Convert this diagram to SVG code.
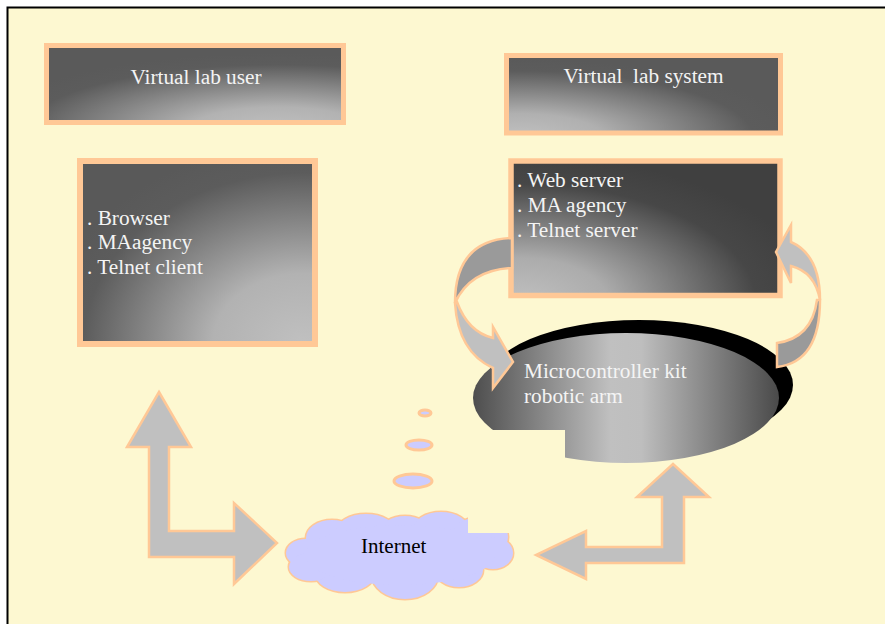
<svg xmlns="http://www.w3.org/2000/svg" width="885" height="624" viewBox="0 0 885 624">
  <style>
    .frame { fill: none; stroke: #000; stroke-width: 2; }
    .box { stroke: #FFC896; }
    .label { font-family: "Liberation Serif", "Times New Roman", serif; font-size: 21.3px; fill: #F4F4F4; }
    .dark-label { font-family: "Liberation Serif", "Times New Roman", serif; font-size: 21px; fill: #000; }
    .arrow { fill: #C0C0C0; stroke: #FFC896; stroke-width: 2.5; stroke-linejoin: miter; }
    .arrow-back { fill: #9A9A9A; stroke: #FFC896; stroke-width: 2.5; }
    .puff-edge { fill: #CCCCFF; stroke: #FFC896; stroke-width: 3; }
    .puff-fill { fill: #CCCCFF; stroke: none; }
    .bg { fill: #FDF8D1; }
  </style>
  <defs>
    <radialGradient id="gUser" cx="0.78" cy="1.1" r="1.0" gradientUnits="objectBoundingBox">
      <stop offset="0" stop-color="#C0C0C0"/>
      <stop offset="0.3" stop-color="#B2B2B2"/>
      <stop offset="0.85" stop-color="#5C5C5C"/>
      <stop offset="1" stop-color="#5A5A5A"/>
    </radialGradient>
    <radialGradient id="gSystem" cx="0.05" cy="1.05" r="1.0" gradientUnits="objectBoundingBox">
      <stop offset="0" stop-color="#C0C0C0"/>
      <stop offset="0.3" stop-color="#B0B0B0"/>
      <stop offset="0.85" stop-color="#5C5C5C"/>
      <stop offset="1" stop-color="#5A5A5A"/>
    </radialGradient>
    <radialGradient id="gClient" cx="0.95" cy="1.0" r="1.1" gradientUnits="objectBoundingBox">
      <stop offset="0" stop-color="#C0C0C0"/>
      <stop offset="0.35" stop-color="#B2B2B2"/>
      <stop offset="0.85" stop-color="#5C5C5C"/>
      <stop offset="1" stop-color="#595959"/>
    </radialGradient>
    <radialGradient id="gServer" cx="0.03" cy="1.05" r="1.1" gradientUnits="objectBoundingBox">
      <stop offset="0" stop-color="#C0C0C0"/>
      <stop offset="0.3" stop-color="#ACACAC"/>
      <stop offset="0.8" stop-color="#474747"/>
      <stop offset="1" stop-color="#404040"/>
    </radialGradient>
    <linearGradient id="gKit" x1="0" y1="0" x2="1" y2="0">
      <stop offset="0" stop-color="#4E4E4E"/>
      <stop offset="0.45" stop-color="#C0C0C0"/>
      <stop offset="0.55" stop-color="#BEBEBE"/>
      <stop offset="1" stop-color="#4A4A4A"/>
    </linearGradient>
  </defs>

  <!-- page and frame -->
  <rect x="0" y="0" width="885" height="624" fill="#FFFFFF"/>
  <rect class="bg" x="7.5" y="7.5" width="878" height="617"/>
  <path class="frame" d="M7.5,624 V7.5 H885"/>

  <!-- header boxes -->
  <g id="virtual-lab-user">
    <rect class="box" x="46.5" y="45.5" width="297" height="77" fill="url(#gUser)" stroke-width="5"/>
    <text class="label" x="196" y="84" text-anchor="middle">Virtual lab user</text>
  </g>
  <g id="virtual-lab-system">
    <rect class="box" x="506.5" y="55.5" width="274" height="77.5" fill="url(#gSystem)" stroke-width="5"/>
    <text class="label" x="643.5" y="83" text-anchor="middle" xml:space="preserve">Virtual  lab system</text>
  </g>

  <!-- client software box -->
  <g id="client-software">
    <rect class="box" x="80" y="161" width="235" height="183" fill="url(#gClient)" stroke-width="6"/>
    <text class="label" x="87" y="225">. Browser</text>
    <text class="label" x="87" y="249">. MAagency</text>
    <text class="label" x="87" y="274">. Telnet client</text>
  </g>

  <!-- server software box -->
  <g id="server-software">
    <rect class="box" x="511" y="161" width="269" height="134.5" fill="url(#gServer)" stroke-width="5.5"/>
    <text class="label" x="517" y="187">. Web server</text>
    <text class="label" x="517" y="212">. MA agency</text>
    <text class="label" x="517" y="237">. Telnet server</text>
  </g>

  <!-- microcontroller kit ellipse with drop shadow -->
  <g id="microcontroller-kit">
    <ellipse cx="639" cy="385" rx="154" ry="65" fill="#000"/>
    <ellipse cx="626" cy="398" rx="153" ry="65" fill="url(#gKit)"/>
    <rect class="bg" x="468" y="430" width="97" height="40"/>
    <text class="label" x="524" y="378">Microcontroller kit</text>
    <text class="label" x="524" y="403">robotic arm</text>
  </g>

  <!-- internet cloud with thought bubbles -->
  <g id="internet">
    <ellipse class="puff-edge" cx="425" cy="413" rx="6" ry="3"/>
    <ellipse class="puff-edge" cx="419" cy="445" rx="13" ry="5"/>
    <ellipse class="puff-edge" cx="413" cy="481" rx="19" ry="7"/>
    <g class="puff-edge">
      <ellipse cx="306" cy="553" rx="20" ry="14"/>
      <ellipse cx="332" cy="538" rx="26" ry="18"/>
      <ellipse cx="366" cy="532" rx="30" ry="18"/>
      <ellipse cx="405" cy="532" rx="25" ry="16"/>
      <ellipse cx="441" cy="530" rx="28" ry="18"/>
      <ellipse cx="480" cy="537" rx="28" ry="20"/>
      <ellipse cx="493" cy="553" rx="20" ry="16"/>
      <ellipse cx="459" cy="570" rx="24" ry="17"/>
      <ellipse cx="405" cy="575" rx="33" ry="24"/>
      <ellipse cx="345" cy="573" rx="30" ry="19"/>
      <ellipse cx="311" cy="567" rx="22" ry="14"/>
    </g>
    <g class="puff-fill">
      <ellipse cx="306" cy="553" rx="20" ry="14"/>
      <ellipse cx="332" cy="538" rx="26" ry="18"/>
      <ellipse cx="366" cy="532" rx="30" ry="18"/>
      <ellipse cx="405" cy="532" rx="25" ry="16"/>
      <ellipse cx="441" cy="530" rx="28" ry="18"/>
      <ellipse cx="480" cy="537" rx="28" ry="20"/>
      <ellipse cx="493" cy="553" rx="20" ry="16"/>
      <ellipse cx="459" cy="570" rx="24" ry="17"/>
      <ellipse cx="405" cy="575" rx="33" ry="24"/>
      <ellipse cx="345" cy="573" rx="30" ry="19"/>
      <ellipse cx="311" cy="567" rx="22" ry="14"/>
      <ellipse cx="400" cy="555" rx="95" ry="30"/>
    </g>
    <rect class="bg" x="468" y="504" width="50" height="29"/>
    <text class="dark-label" x="361" y="553">Internet</text>
  </g>

  <!-- connectors -->
  <g id="connectors">
    <!-- user side: up to the client box, right to the cloud -->
    <path class="arrow" d="M159,392 L191,447 L169,447 L169,531 L234,531 L234,503 L277,543 L234,584 L234,557 L149,557 L149,447 L127,447 Z"/>
    <!-- system side: up to the kit, left to the cloud -->
    <path class="arrow" d="M673,464 L709,497 L684,497 L684,563 L586,563 L586,579 L536,555 L586,531 L586,547 L662,547 L662,497 L637,497 Z"/>
    <!-- server to kit, curving round the left -->
    <path class="arrow-back" d="M512,238 Q455,240 455,303 Q470,270 512,268 Z"/>
    <path class="arrow" d="M457,302 Q468,332 493,338 L493,327 L513,362 L493,388 L493,368 Q458,352 455,303 Z"/>
    <!-- kit to server, curving round the right -->
    <path class="arrow-back" d="M820,300 Q820,362 777,367 L777,343 Q812,338 817,300 Z"/>
    <path class="arrow" d="M791,242 Q820,255 820,300 Q815,272 791,266 L791,283 L776,252 L791,225 Z"/>
  </g>
</svg>
